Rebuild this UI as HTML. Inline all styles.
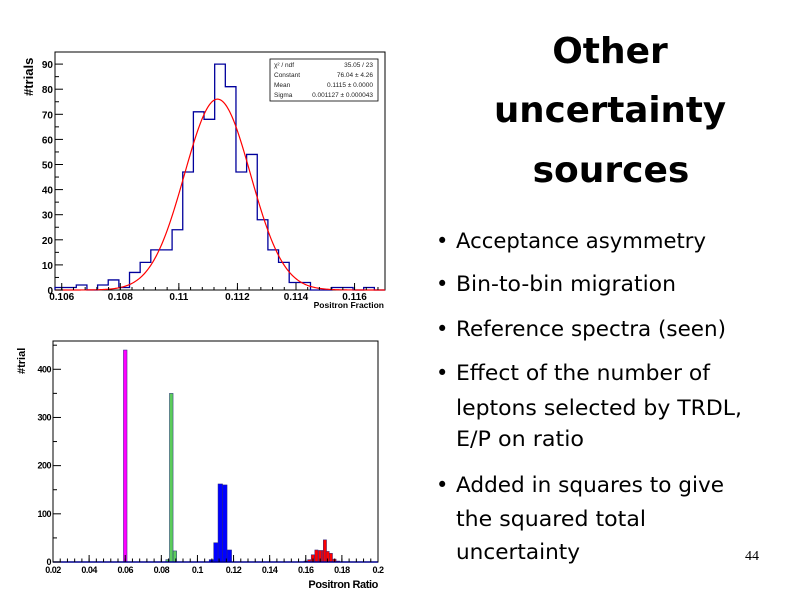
<!DOCTYPE html>
<html><head><meta charset="utf-8"><style>
html,body{margin:0;padding:0;background:#fff}
svg{display:block}
.sans{font-family:"DejaVu Sans","Liberation Sans",sans-serif}
.ax{font-family:"Liberation Sans",sans-serif;font-weight:bold}
</style></head><body>
<svg id="s" width="800" height="600" viewBox="0 0 800 600">
<g class="sans" font-weight="bold" font-size="36" text-anchor="middle" fill="#000">
<text x="610" y="63">Other</text>
<text x="610" y="122" textLength="232" lengthAdjust="spacingAndGlyphs">uncertainty</text>
<text x="611" y="182">sources</text>
</g>
<g class="sans" font-size="21" fill="#000">
<text x="436" y="248">•</text><text x="456" y="248" textLength="250" lengthAdjust="spacingAndGlyphs">Acceptance asymmetry</text>
<text x="436" y="291">•</text><text x="456" y="291" textLength="220" lengthAdjust="spacingAndGlyphs">Bin-to-bin migration</text>
<text x="436" y="336">•</text><text x="456" y="336" textLength="270" lengthAdjust="spacingAndGlyphs">Reference spectra (seen)</text>
<text x="436" y="380">•</text><text x="456" y="380" textLength="254" lengthAdjust="spacingAndGlyphs">Effect of the number of</text>
<text x="456" y="415" textLength="286" lengthAdjust="spacingAndGlyphs">leptons selected by TRDL,</text>
<text x="456" y="446" textLength="128" lengthAdjust="spacingAndGlyphs">E/P on ratio</text>
<text x="436" y="492">•</text><text x="456" y="492" textLength="268" lengthAdjust="spacingAndGlyphs">Added in squares to give</text>
<text x="456" y="526" textLength="190" lengthAdjust="spacingAndGlyphs">the squared total</text>
<text x="456" y="559" textLength="124" lengthAdjust="spacingAndGlyphs">uncertainty</text>
</g>
<text x="745" y="560" font-family="Liberation Serif,serif" font-size="14">44</text>
<g id="top"></g>
<g id="bot"></g>
</svg>
<script>
// ---- top chart data ----
const topCounts = [1,1,2,0,2,4,1,7,11,16,16,24,47,71,68,90,81,47,54,28,16,11,3,3,0,0,1,1,0,1,0];
const topXTicks = [0.106,0.108,0.11,0.112,0.114,0.116];
const topXTickLabels = ["0.106","0.108","0.11","0.112","0.114","0.116"];
const topYTicks = [0,10,20,30,40,50,60,70,80,90];
const fitConstant = 76.04;
const fitMean = 0.11132;
const fitSigma = 0.001127;
// ---- bottom chart data ----
const magentaBins = [0.059];
const magentaCounts = [440];
const greenBins = [0.0825,0.0845,0.0865];
const greenCounts = [5,350,23];
const blueBins = [0.1065,0.109,0.1114,0.1139,0.1164];
const blueCounts = [5,40,162,160,25];
const redBins = [0.159,0.161,0.163,0.165,0.167,0.169,0.1697,0.1712,0.173,0.175,0.177];
const redCounts = [2,5,15,25,24,24,46,22,18,6,2];
const botXTicks = [0.02,0.04,0.06,0.08,0.1,0.12,0.14,0.16,0.18,0.2];
const botXTickLabels = ["0.02","0.04","0.06","0.08","0.1","0.12","0.14","0.16","0.18","0.2"];
const botYTicks = [0,100,200,300,400];

const NS="http://www.w3.org/2000/svg";
function mk(parent,tag,attrs,text){const e=document.createElementNS(NS,tag);for(const k in attrs)e.setAttribute(k,attrs[k]);if(text!==undefined)e.textContent=text;parent.appendChild(e);return e;}

// top chart
(function(){
const g=document.getElementById('top');
const L=55,R=385,T=52,B=290;
const xmin=0.10577,xmax=0.11704;
const X=v=>L+(v-xmin)/(xmax-xmin)*(R-L);
const Y=v=>B-v*2.51;
let fr=mk(g,'rect',{x:L,y:T,width:R-L,height:B-T,fill:'none',stroke:'#000','stroke-width':1});


const bw=(xmax-xmin)/topCounts.length;
let d='M'+L+','+B;
topCounts.forEach((c,i)=>{d+=' L'+X(xmin+i*bw)+','+Y(c)+' L'+X(xmin+(i+1)*bw)+','+Y(c);});
d+=' L'+R+','+B;
let h=mk(g,'path',{d:d,fill:'none',stroke:'#00009c','stroke-width':1.3});


let fd='';
for(let i=0;i<=300;i++){const x=xmin+(xmax-xmin)*i/300;const y=fitConstant*Math.exp(-0.5*Math.pow((x-fitMean)/fitSigma,2));fd+=(i?' L':'M')+X(x).toFixed(2)+','+Y(y).toFixed(2);}
let f=mk(g,'path',{d:fd,fill:'none',stroke:'#f00','stroke-width':1.2});


topYTicks.forEach(v=>{
 const t=mk(g,'line',{x1:L,x2:L+8,y1:Y(v),y2:Y(v),stroke:'#000'});
 
 
 const tl=mk(g,'text',{x:L-2,y:Y(v)+4,'text-anchor':'end','font-size':10,class:'ax'},String(v));
 
 
 if(v<90){const m=mk(g,'line',{x1:L,x2:L+4,y1:Y(v+5),y2:Y(v+5),stroke:'#000'});
 
 }
});
topXTicks.forEach((v,i)=>{
 const t=mk(g,'line',{x1:X(v),x2:X(v),y1:B,y2:B-7,stroke:'#000'});
 
 
 const tl=mk(g,'text',{x:X(v),y:B+10,'text-anchor':'middle','font-size':10,class:'ax'},topXTickLabels[i]);
 
 
});
for(let v=0.1060;v<0.1170;v+=0.0004){const m=mk(g,'line',{x1:X(v),x2:X(v),y1:B,y2:B-3,stroke:'#000'});
 
 }
const xt=mk(g,'text',{x:384,y:308,'text-anchor':'end','font-size':8.5,class:'ax'},'Positron Fraction');


const yt=mk(g,'text',{x:0,y:0,transform:'translate(33,96) rotate(-90)','font-size':13,class:'ax'},'#trials');


const sb=mk(g,'g',{});


mk(sb,'rect',{x:270,y:59,width:108,height:42,fill:'#fff',stroke:'#000','stroke-width':0.8});
const rows=[['χ² / ndf','35.05 / 23'],['Constant','76.04 ± 4.26'],['Mean','0.1115 ± 0.0000'],['Sigma','0.001127 ± 0.000043']];
rows.forEach((r,i)=>{
 const a=mk(sb,'text',{x:274,y:67+i*10,'font-size':6.5,'font-family':'Liberation Sans,sans-serif',fill:'#222'},r[0]);
 
 
 const b=mk(sb,'text',{x:373,y:67+i*10,'font-size':6.5,'text-anchor':'end','font-family':'Liberation Sans,sans-serif',fill:'#222'},r[1]);
 
 
});
})();

// bottom chart
(function(){
const g=document.getElementById('bot');
const L=53,R=378,T=341,B=562;
const xmin=0.02,xmax=0.2;
const X=v=>L+(v-xmin)/(xmax-xmin)*(R-L);
const Y=v=>B-v*0.4818;
let fr=mk(g,'rect',{x:L,y:T,width:R-L,height:B-T,fill:'none',stroke:'#000','stroke-width':1});


function series(bins,counts,w,fill,name){
 bins.forEach((b,i)=>{
  const r=mk(g,'rect',{x:X(b),y:Y(counts[i]),width:X(b+w)-X(b),height:B-Y(counts[i]),fill:fill,stroke:'#2a2a80','stroke-width':0.5});
  
  
 });
}
series(magentaBins,magentaCounts,0.002,'#ff00ff','bar-magenta');
series(greenBins,greenCounts,0.002,'#5ccc5c','bar-green');
series(blueBins,blueCounts,0.0025,'#0000ff','bar-blue');
series(redBins,redCounts,0.0018,'#ff0000','bar-red');
const base=mk(g,'line',{x1:L,x2:R,y1:B,y2:B,stroke:'#00008b','stroke-width':1.5});


botYTicks.forEach(v=>{
 const t=mk(g,'line',{x1:L,x2:L+8,y1:Y(v),y2:Y(v),stroke:'#000'});
 
 
 const tl=mk(g,'text',{x:L-2,y:Y(v)+3,'text-anchor':'end','font-size':9,class:'ax','letter-spacing':'-0.5'},String(v));
 
 
 const m=mk(g,'line',{x1:L,x2:L+4,y1:Y(v+50),y2:Y(v+50),stroke:'#000'});
 
 
});
botXTicks.forEach((v,i)=>{
 const t=mk(g,'line',{x1:X(v),x2:X(v),y1:B,y2:B-7,stroke:'#000'});
 
 
 const tl=mk(g,'text',{x:X(v),y:B+11,'text-anchor':'middle','font-size':9,class:'ax','letter-spacing':'-0.5'},botXTickLabels[i]);
 
 
});
for(let v=0.024;v<0.2;v+=0.004){const m=mk(g,'line',{x1:X(v),x2:X(v),y1:B,y2:B-3.5,stroke:'#000'});
 
 }
const xt=mk(g,'text',{x:378,y:588,'text-anchor':'end','font-size':11,class:'ax','letter-spacing':'-0.4'},'Positron Ratio');


const yt=mk(g,'text',{x:0,y:0,transform:'translate(25,374) rotate(-90)','font-size':11,class:'ax'},'#trial');


})();
</script>
</body></html>
